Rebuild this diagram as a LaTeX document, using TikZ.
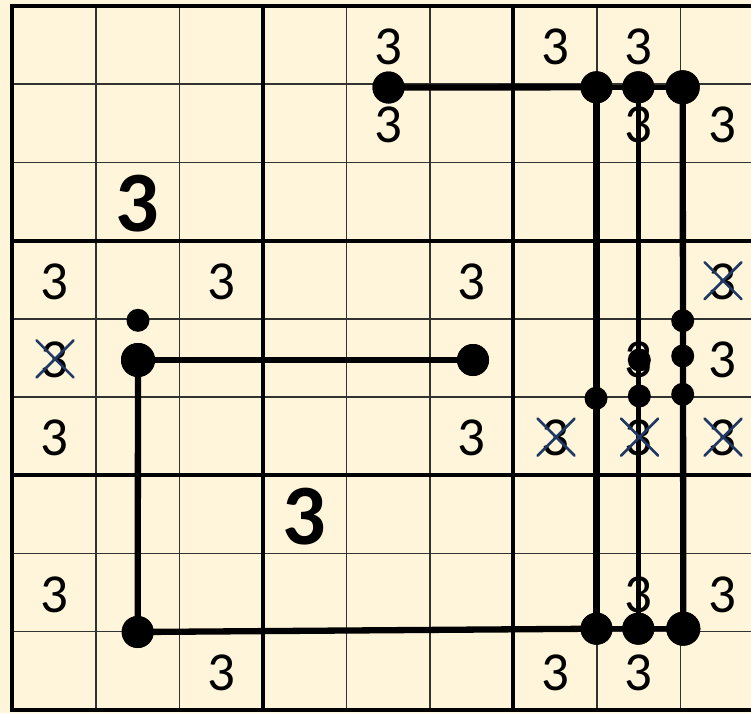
\documentclass[tikz,border=0pt]{standalone}
\usepackage{fontspec}
\setmainfont{Carlito}
\definecolor{bg}{RGB}{255,245,218}
\definecolor{gridgray}{RGB}{50,50,50}
\definecolor{xblue}{RGB}{31,56,100}
\begin{document}
\begin{tikzpicture}[x=1pt,y=-1pt,
  dotbig/.style={circle,fill=black,inner sep=0pt,minimum size=32pt},
  dotlarge/.style={circle,fill=black,inner sep=0pt,minimum size=34pt},
  dotsmall/.style={circle,fill=black,inner sep=0pt,minimum size=23pt},
  num/.style={inner sep=0pt,font=\fontsize{55}{60}\selectfont},
  bignum/.style={inner sep=0pt,font=\fontsize{86}{90}\selectfont\bfseries},
  thinline/.style={gridgray,line width=1.6pt},
  thickline/.style={black,line width=4.2pt},
  pathline/.style={black,line width=6.3pt},
  midline/.style={black,line width=5pt},
  xmark/.style={xblue,line width=2.6pt,line cap=round}]
\path[clip] (0,0) rectangle (751,713);
\fill[bg] (0,0) rectangle (751,713);
% grid
\foreach \i in {1,2,4,5,7,8} {
  \draw[thinline] ({12.3+83.5*\i},6) -- ({12.3+83.5*\i},709.8);
  \draw[thinline] (12.3,{6+78.2*\i}) -- (763.8,{6+78.2*\i});
}
\foreach \i in {3,6} {
  \draw[thickline] ({12.3+83.5*\i},6) -- ({12.3+83.5*\i},709.8);
  \draw[thickline] (12.3,{6+78.2*\i}) -- (763.8,{6+78.2*\i});
}
\draw[thickline] (12.3,6) rectangle (763.8,709.8);
% numbers
\foreach \c/\r in {4/0,6/0,7/0,4/1,7/1,8/1,0/3,2/3,5/3,8/3,0/4,7/4,8/4,0/5,5/5,6/5,7/5,8/5,0/7,7/7,8/7,2/8,6/8,7/8}
  \node[num] (n\c\r) at ({12.3+83.5*(\c+0.5)},{6+78.2*(\r+0.5)+2}) {3};
\foreach \c/\r in {1/2,3/6}
  \node[bignum] (b\c\r) at ({12.3+83.5*(\c+0.5)},{6+78.2*(\r+0.5)+2}) {3};
% dots
\node[dotbig] (A) at (388.5,87.5) {};
\node[dotbig] (T1) at (596.5,87.3) {};
\node[dotbig] (T2) at (638.3,87.3) {};
\node[dotlarge] (T3) at (682.7,87.3) {};
\node[dotbig] (B1) at (596.5,628.7) {};
\node[dotbig] (B2) at (638.3,628.7) {};
\node[dotlarge] (B3) at (683.3,628.7) {};
\node[dotlarge] (L) at (138,360) {};
\node[dotsmall] (Ls) at (138,320.3) {};
\node[dotbig] (R) at (473,360) {};
\node[dotbig] (LB) at (137.7,632) {};
% connectors
\draw[pathline] (A.center) -- (T1.center);
\draw[midline] (T1.center) -- (T2.center) -- (T3.center);
\draw[pathline] (T1.center) -- (B1.center);
\draw[midline] (T2.center) -- (B2.center);
\draw[pathline] (T3.center) -- (B3.center);
\draw[pathline] (LB.center) -- (B1.center);
\draw[midline] (B1.center) -- (B2.center) -- (B3.center);
\draw[pathline] (L.center) -- (R.center);
\draw[pathline] (L.center) -- (LB.center);
% redraw dots on top
\foreach \d/\s in {A/dotbig,T1/dotbig,T2/dotbig,T3/dotlarge,B1/dotbig,B2/dotbig,B3/dotlarge,L/dotlarge,R/dotbig,LB/dotbig}
  \node[\s] at (\d.center) {};
\node[dotsmall] (S1) at (682.7,320.7) {};
\node[dotsmall] (S2) at (682.7,356) {};
\node[dotsmall] (S3) at (682.7,394.3) {};
\node[dotsmall] (S4) at (639.3,360) {};
\node[dotsmall] (S5) at (639.3,396) {};
\node[dotsmall] (S6) at (596,398.3) {};
% crosses
\foreach \c/\r in {8/3,0/4,6/5,7/5,8/5} {
  \draw[xmark] ({12.3+83.5*(\c+0.5)+1-18.5},{6+78.2*(\r+0.5)+1-18.5}) -- ({12.3+83.5*(\c+0.5)+1+18.5},{6+78.2*(\r+0.5)+1+18.5});
  \draw[xmark] ({12.3+83.5*(\c+0.5)+1-18.5},{6+78.2*(\r+0.5)+1+18.5}) -- ({12.3+83.5*(\c+0.5)+1+18.5},{6+78.2*(\r+0.5)+1-18.5});
}
\end{tikzpicture}
\end{document}
